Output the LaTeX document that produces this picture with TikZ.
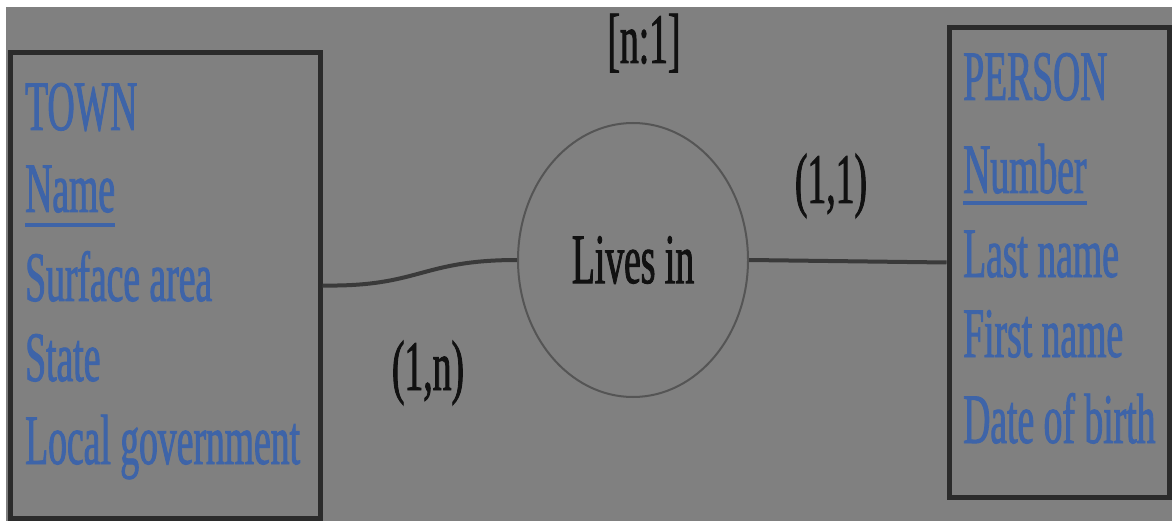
\documentclass[tikz,border=0pt]{standalone}
\usepackage{fontspec}
\usetikzlibrary{shapes.geometric}
\newfontfamily\condfont[FakeStretch=0.53,FakeBold=1.2]{Liberation Serif}
\definecolor{bggray}{RGB}{128,128,128}
\definecolor{boxline}{RGB}{43,43,43}
\definecolor{attrblue}{RGB}{62,100,168}
\definecolor{connline}{RGB}{58,58,58}
\definecolor{ellline}{RGB}{85,85,85}
\definecolor{inkblack}{RGB}{17,17,17}
\tikzset{
  entitybox/.style={draw=boxline, line width=5pt, rectangle, inner sep=0pt},
  attr/.style={anchor=base west, inner sep=0pt, text=attrblue,
    font=\condfont\fontsize{71}{71}\selectfont},
  lbl/.style={anchor=base, inner sep=0pt, text=inkblack,
    font=\condfont\fontsize{71}{71}\selectfont},
  relation/.style={draw=ellline, line width=2pt, ellipse, inner sep=0pt,
    minimum width=230pt, minimum height=274pt, text=inkblack,
    font=\condfont\fontsize{71}{71}\selectfont},
  conn/.style={draw=connline, line width=4pt},
  keyline/.style={draw=attrblue, line width=4pt}
}
\begin{document}
\begin{tikzpicture}[x=1pt, y=-1pt]
\useasboundingbox (0,0) rectangle (1172,521);
\fill[white] (0,0) rectangle (1172,521);
\fill[bggray] (6,7) rectangle (1172,521);

% entities
\node[entitybox, minimum width=310pt, minimum height=466pt] (town) at (165,285.5) {};
\node[entitybox, minimum width=220pt, minimum height=469pt] (person) at (1059,262.5) {};

% TOWN attributes
\node[attr] (townname) at (25,130) {TOWN};
\node[attr] (tname) at (25,212) {Name};
\node[attr] (tarea) at (25,301) {Surface area};
\node[attr] (tstate) at (25,381) {State};
\node[attr] (tgov) at (25,464) {Local government};
\draw[keyline] ([yshift=-13pt]tname.base west) -- ([yshift=-13pt]tname.base east);

% PERSON attributes
\node[attr] (personname) at (963,100) {PERSON};
\node[attr] (pnumber) at (963,193) {Number};
\node[attr] (plast) at (963,277) {Last name};
\node[attr] (pfirst) at (963,357) {First name};
\node[attr] (pbirth) at (963,443) {Date of birth};
\draw[keyline] ([yshift=-10pt]pnumber.base west) -- ([yshift=-10pt]pnumber.base east);

% relationship
\node[relation] (lives) at (633,260) {Lives in};

% labels
\node[lbl] (ratio) at (644,63) {[n:1]};
\node[lbl] (cardr) at (831,203) {(1,1)};
\node[lbl] (cardl) at (428,390) {(1,n)};

% connectors
\draw[conn] (town.east) .. controls (420,287) and (420,260) .. (lives.west);
\draw[conn] (lives.east) -- (person.west);
\end{tikzpicture}
\end{document}
